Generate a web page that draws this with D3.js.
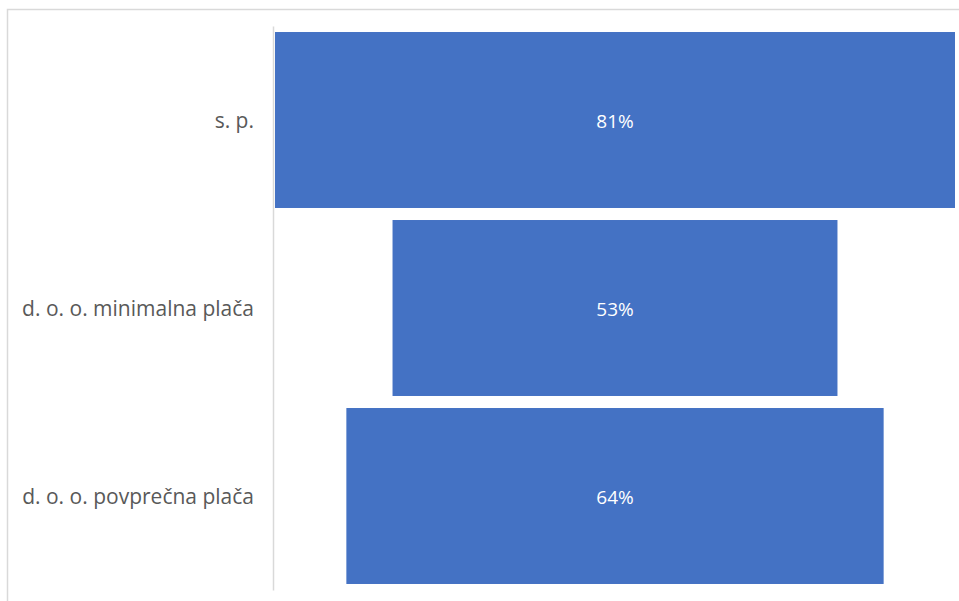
<!DOCTYPE html>
<html>
<head>
<meta charset="utf-8">
<script src="https://cdn.jsdelivr.net/npm/d3@7"></script>
<style>
  html, body { margin: 0; padding: 0; background: #fff; }
  svg { display: block; }
</style>
</head>
<body>
<svg id="chart" width="959" height="601"></svg>
<script>
// Funnel of shares by business form
const categories = ["s. p.", "d. o. o. minimalna plača", "d. o. o. povprečna plača"];
const values = [81, 53, 64];
const valueLabels = ["81%", "53%", "64%"];

const W = 959, H = 601;
const svg = d3.select("#chart");

// chart frame (right and bottom edges fall outside the view)
svg.append("rect")
  .attr("x", 7.5).attr("y", 9.5)
  .attr("width", 1000).attr("height", 700)
  .attr("fill", "#fff")
  .attr("stroke", "#d9d9d9").attr("stroke-width", 1.5);

const plot = { left: 275, right: 955, top: 26, bottom: 590 };
const centre = (plot.left + plot.right) / 2;

const y = d3.scaleBand()
  .domain(categories)
  .range([plot.top, plot.bottom])
  .paddingInner(0.064)
  .paddingOuter(0.032);

const w = d3.scaleLinear()
  .domain([0, d3.max(values)])
  .range([0, plot.right - plot.left]);

// bars centred on the funnel axis
svg.append("g").selectAll("rect")
  .data(categories)
  .join("rect")
  .attr("x", (d, i) => centre - w(values[i]) / 2)
  .attr("y", d => y(d))
  .attr("width", (d, i) => w(values[i]))
  .attr("height", y.bandwidth())
  .attr("fill", "#4472c4");

// value labels
svg.append("g").selectAll("text")
  .data(categories)
  .join("text")
  .attr("x", centre)
  .attr("y", d => y(d) + y.bandwidth() / 2)
  .attr("dy", "0.4em")
  .attr("text-anchor", "middle")
  .attr("fill", "#fff")
  .style("font-family", "'Open Sans', sans-serif")
  .style("font-size", "19px")
  .text((d, i) => valueLabels[i]);

// category axis
const axis = d3.axisLeft(y).tickSize(0).tickPadding(19);
const gAxis = svg.append("g")
  .attr("transform", `translate(${plot.left - 2},0)`)
  .call(axis);
gAxis.select(".domain")
  .attr("stroke", "#d9d9d9")
  .attr("stroke-width", 1.5);
gAxis.selectAll("text")
  .attr("fill", "#595959")
  .attr("dy", "0.4em")
  .style("font-family", "'Open Sans', sans-serif")
  .style("font-size", "21px");
</script>
</body>
</html>
